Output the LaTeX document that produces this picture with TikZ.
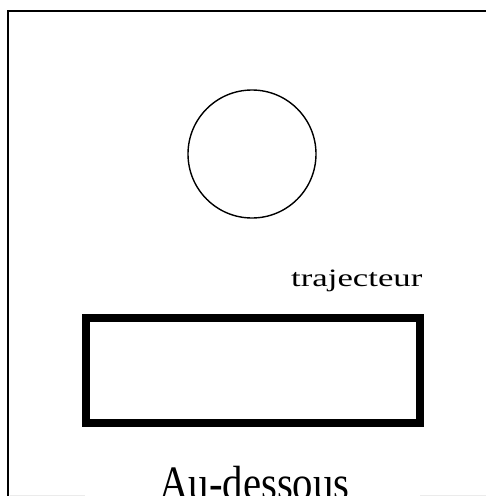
\documentclass[tikz,border=0pt]{standalone}
\usepackage{fontspec}
\setmainfont{Liberation Serif}
\begin{document}
\begin{tikzpicture}[x=1pt,y=-1pt,
  frameline/.style={line width=2.5pt,black},
  faintline/.style={line width=1pt,black!8},
  landmark/.style={draw,line width=8pt,minimum width=334pt,minimum height=105pt,inner sep=0pt},
  trajector/.style={draw,circle,line width=1.4pt,minimum size=128pt,inner sep=0pt},
  lbl/.style={inner sep=0pt}]
\useasboundingbox (0,0) rectangle (486,496);
\clip (0,0) rectangle (486,496);
% frame
\coordinate (tl) at (8,11);
\coordinate (tr) at (486,11);
\coordinate (bl) at (8,496);
\draw[frameline] (tr) -- (tl) -- (bl);
\coordinate (f1) at (10,495);
\coordinate (f2) at (85,495);
\coordinate (f3) at (420,495);
\coordinate (f4) at (486,495);
\draw[faintline] (f1) -- (f2);
\draw[faintline] (f3) -- (f4);
% shapes
\node[trajector] (circ) at (252,154) {};
\node[landmark] (rect) at (253,370.5) {};
% labels
\node[lbl,anchor=base west] (traj) at (291,286) {\scalebox{1.39}[1]{\fontsize{25}{25}\selectfont trajecteur}};
\node[lbl,anchor=base west] (title) at (159,499) {\scalebox{0.85}[1]{\fontsize{48}{48}\selectfont Au-dessous}};
\end{tikzpicture}
\end{document}
